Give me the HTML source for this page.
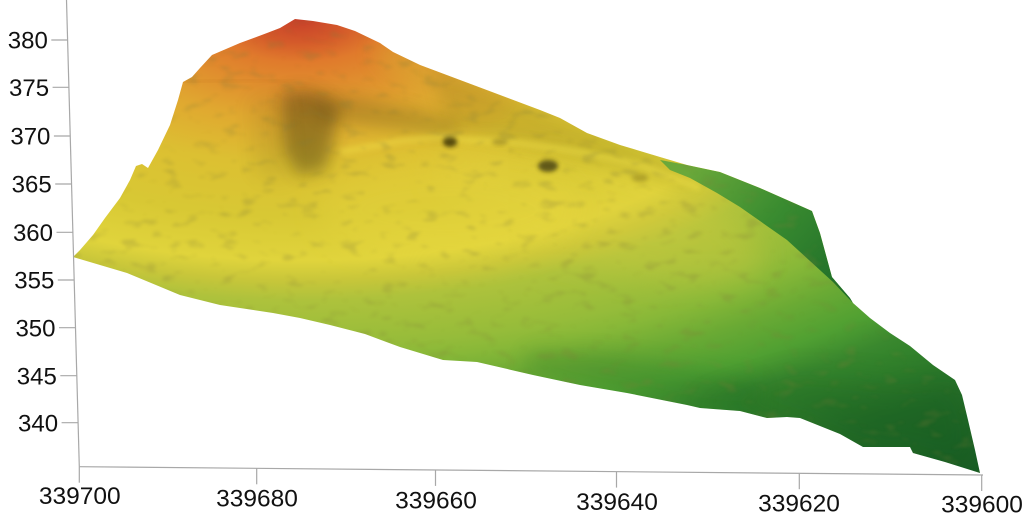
<!DOCTYPE html>
<html>
<head>
<meta charset="utf-8">
<style>
  html, body { margin: 0; padding: 0; background: #ffffff; }
  body { width: 1024px; height: 523px; overflow: hidden; }
  svg { display: block; }
  text { font-family: "Liberation Sans", Arial, sans-serif; fill: #111; }
</style>
</head>
<body>
<svg width="1024" height="523" viewBox="0 0 1024 523" xmlns="http://www.w3.org/2000/svg">
  <defs>
    <radialGradient id="elev" gradientUnits="userSpaceOnUse" cx="300" cy="20" r="560"
      gradientTransform="translate(300 20) scale(2.1 1) translate(-300 -20)">
      <stop offset="0" stop-color="#c8402a"/>
      <stop offset="0.04" stop-color="#d45a2a"/>
      <stop offset="0.075" stop-color="#e07a2c"/>
      <stop offset="0.175" stop-color="#e0a830"/>
      <stop offset="0.257" stop-color="#dcc032"/>
      <stop offset="0.35" stop-color="#d8c834"/>
      <stop offset="0.43" stop-color="#e0d43c"/>
      <stop offset="0.465" stop-color="#c8c63a"/>
      <stop offset="0.5" stop-color="#aec23c"/>
      <stop offset="0.58" stop-color="#96bc3a"/>
      <stop offset="0.61" stop-color="#88b838"/>
      <stop offset="0.66" stop-color="#6aaa34"/>
      <stop offset="0.715" stop-color="#50a032"/>
      <stop offset="0.76" stop-color="#3a882e"/>
      <stop offset="0.78" stop-color="#34842c"/>
      <stop offset="0.87" stop-color="#246e28"/>
      <stop offset="0.95" stop-color="#1c6426"/>
      <stop offset="1" stop-color="#185c24"/>
    </radialGradient>
    <linearGradient id="face" gradientUnits="userSpaceOnUse" x1="690" y1="170" x2="850" y2="300">
      <stop offset="0" stop-color="#6aa83a"/>
      <stop offset="0.45" stop-color="#3a8c30"/>
      <stop offset="1" stop-color="#1c6a28"/>
    </linearGradient>
    <clipPath id="surf">
      <path d="M73,257 L80,250 L93,235 L105,218 L120,198 L130,180 L136,166 L142,164 L148,168 L158,150 L170,125 L178,100 L183,82 L192,77 L200,68 L212,55 L240,43 L267,33 L280,28 L295,19 L313,21 L337,25 L355,31 L380,43 L393,52 L420,65 L460,80 L500,95 L540,110 L560,118 L587,133 L620,145 L660,157 L687,165 L720,172 L760,188 L803,207 L812,211 L820,233 L832,277 L850,298 L853,303 L870,318 L890,333 L910,346 L933,365 L955,380 L962,395 L968,420 L975,450 L980,473 L945,462 L913,453 L910,447 L880,447 L863,447 L840,434 L800,418 L787,417 L767,418 L740,411 L700,408 L687,405 L627,393 L580,385 L533,375 L477,362 L443,360 L400,347 L365,334 L330,325 L300,318 L273,313 L220,305 L180,295 L127,273 L100,265 Z"/>
    </clipPath>
    <filter id="b15" x="-50%" y="-50%" width="200%" height="200%"><feGaussianBlur stdDeviation="15"/></filter>
    <filter id="b10" x="-50%" y="-50%" width="200%" height="200%"><feGaussianBlur stdDeviation="10"/></filter>
    <filter id="b8" x="-50%" y="-50%" width="200%" height="200%"><feGaussianBlur stdDeviation="8"/></filter>
    <filter id="b3" x="-50%" y="-50%" width="200%" height="200%"><feGaussianBlur stdDeviation="3"/></filter>
    <filter id="b2" x="-50%" y="-50%" width="200%" height="200%"><feGaussianBlur stdDeviation="2.2"/></filter>
    <filter id="tex" x="0" y="0" width="100%" height="100%">
      <feTurbulence type="fractalNoise" baseFrequency="0.05 0.1" numOctaves="2" seed="7"/>
      <feColorMatrix type="matrix" values="0 0 0 0 0.22  0 0 0 0 0.2  0 0 0 0 0.04  5 0 0 0 -2.9"/>
      <feGaussianBlur stdDeviation="1.2"/>
    </filter>
  </defs>

  <!-- Surface -->
  <g clip-path="url(#surf)">
    <rect x="0" y="0" width="1024" height="523" fill="url(#elev)"/>

    <!-- yellow plateau brightening -->
    <ellipse cx="600" cy="215" rx="170" ry="50" transform="rotate(16 600 215)" fill="#e0d040" opacity="0.28" filter="url(#b15)"/>
    <ellipse cx="450" cy="210" rx="130" ry="50" fill="#eedc42" opacity="0.28" filter="url(#b15)"/>
    <!-- soften orange on upper-right slope -->
    <ellipse cx="440" cy="75" rx="70" ry="22" transform="rotate(22 440 75)" fill="#d8aa30" opacity="0.45" filter="url(#b10)"/>

    <!-- outer upper-right slope slight darkening -->
    <path d="M430,66 L560,118 L700,170 L690,188 L600,162 L520,145 L450,132 Z" fill="#5a5010" opacity="0.14" filter="url(#b8)"/>

    <!-- ridge orange step line -->
    <path d="M183,82 L240,80 L293,80" stroke="#c87a20" stroke-width="3" fill="none" opacity="0.3" filter="url(#b2)"/>

    <!-- dark ridge slope -->
    <path d="M282,92 L308,90 L340,106 L334,136 L326,170 L298,176 L285,152 L282,120 Z" fill="#3a2e08" opacity="0.42" filter="url(#b8)"/>
    <!-- depression band -->
    <path d="M310,92 L360,98 L420,110 L458,122 L452,138 L400,130 L350,124 L320,118 Z" fill="#4a3c0c" opacity="0.24" filter="url(#b8)"/>
    <path d="M252,100 L285,95 L290,180 L257,175 Z" fill="#5a4a10" opacity="0.13" filter="url(#b10)"/>

    <!-- rim highlight -->
    <polyline points="340,152 400,141 440,137 470,140 520,143 580,152 640,165 700,188" stroke="#f4e448" stroke-width="6" fill="none" opacity="0.45" filter="url(#b3)"/>

    <!-- dark pits -->
    <ellipse cx="450" cy="142" rx="7" ry="5" fill="#2a2206" opacity="0.75" filter="url(#b2)"/>
    <ellipse cx="548" cy="166" rx="10" ry="6" fill="#2e2a08" opacity="0.7" filter="url(#b2)"/>
    <ellipse cx="500" cy="142" rx="8" ry="3" fill="#5a4c10" opacity="0.35" filter="url(#b2)"/>
    <ellipse cx="640" cy="178" rx="8" ry="4" fill="#5a4c10" opacity="0.3" filter="url(#b2)"/>

    <!-- right side face -->
    <path d="M660,160 L687,165 L720,172 L760,188 L803,207 L812,211 L820,233 L832,277 L850,298 L853,303 L833,282 L787,240 L740,207 L717,193 L690,178 L670,170 Z" fill="url(#face)"/>

    <!-- lower darker shading along bottom edge -->
    <path d="M520,372 L627,393 L700,408 L760,414 L760,380 L680,365 L600,352 L530,350 Z" fill="#1a6a24" opacity="0.22" filter="url(#b10)"/>
    <path d="M690,408 L800,418 L860,447 L913,453 L980,473 L968,420 L955,380 L900,385 L800,375 Z" fill="#0e4a18" opacity="0.2" filter="url(#b15)"/>

    <!-- mottled texture -->
    <rect x="60" y="10" width="930" height="470" fill="#000" filter="url(#tex)" opacity="0.22"/>
  </g>

  <!-- Axes -->
  <g stroke="#a8a8a8" stroke-width="1.2" fill="none">
    <line x1="66.5" y1="0" x2="79.3" y2="466.7"/>
    <line x1="79.3" y1="466.7" x2="983" y2="475"/>
    <!-- y ticks -->
    <line x1="51.3" y1="40" x2="67.8" y2="40"/>
    <line x1="52.6" y1="87.3" x2="69.1" y2="87.3"/>
    <line x1="53.9" y1="136" x2="70.4" y2="136"/>
    <line x1="55.2" y1="184" x2="71.7" y2="184"/>
    <line x1="56.5" y1="232.3" x2="73" y2="232.3"/>
    <line x1="57.8" y1="280" x2="74.3" y2="280"/>
    <line x1="59" y1="327.7" x2="75.5" y2="327.7"/>
    <line x1="60.3" y1="375.7" x2="76.8" y2="375.7"/>
    <line x1="61.6" y1="422.7" x2="78.1" y2="422.7"/>
    <!-- x ticks -->
    <line x1="79.3" y1="466.7" x2="79.3" y2="482.7"/>
    <line x1="256.7" y1="468.3" x2="256.7" y2="484.3"/>
    <line x1="435.5" y1="469.9" x2="435.5" y2="485.9"/>
    <line x1="616.5" y1="471.6" x2="616.5" y2="487.6"/>
    <line x1="799.3" y1="473.2" x2="799.3" y2="489.2"/>
    <line x1="981.7" y1="475" x2="981.7" y2="491"/>
  </g>

  <!-- Y labels -->
  <g font-size="24" text-anchor="end">
    <text x="47.8" y="48.6">380</text>
    <text x="49.1" y="95.9">375</text>
    <text x="50.4" y="144.6">370</text>
    <text x="51.7" y="192.6">365</text>
    <text x="53" y="240.9">360</text>
    <text x="54.3" y="288.6">355</text>
    <text x="55.5" y="336.3">350</text>
    <text x="56.8" y="384.3">345</text>
    <text x="58.1" y="431.3">340</text>
  </g>

  <!-- X labels -->
  <g font-size="24.5" text-anchor="middle">
    <text x="79.7" y="504">339700</text>
    <text x="257" y="506.5">339680</text>
    <text x="436" y="508.3">339660</text>
    <text x="617" y="510">339640</text>
    <text x="799" y="511.7">339620</text>
    <text x="982" y="512.5">339600</text>
  </g>
</svg>
</body>
</html>
